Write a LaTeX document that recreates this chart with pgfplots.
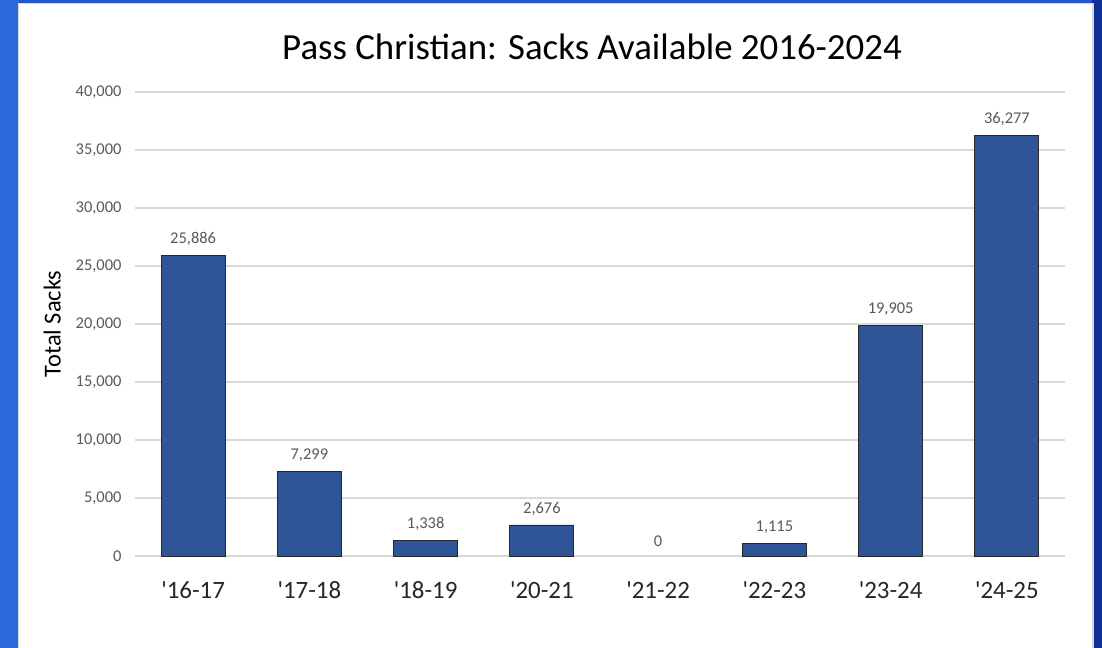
\documentclass[border=0pt]{standalone}
\usepackage{fontspec}
\setmainfont{Carlito}
\usepackage{pgfplots}
\pgfplotsset{compat=1.18}

\definecolor{barblue}{HTML}{2F5597}
\definecolor{gridgray}{HTML}{D9D9D9}
\definecolor{labgray}{HTML}{595959}
\definecolor{bgblue}{HTML}{2D68DC}
\definecolor{topblue}{HTML}{2356CC}
\definecolor{darkblue}{HTML}{0E3096}

\newcommand{\q}{\textquotesingle}

\begin{document}
\begin{tikzpicture}[x=1bp,y=1bp]
% slide background (image px -> bp, y up)
\useasboundingbox (0,0) rectangle (1102,648);
\fill[bgblue] (0,0) rectangle (1102,648);
\fill[topblue] (19,640) rectangle (1102,648);
\fill[darkblue] (1092,0) rectangle (1102,648);
\fill[gridgray] (18,0) rectangle (1094,645);
\fill[white] (19,0) rectangle (1092,644);

\node[font=\fontsize{37}{40}\selectfont, text=black] at (592,601) {Pass Christian: Sacks Available 2016-2024};

\begin{axis}[
  at={(135bp,92bp)}, anchor=south west,
  width=930bp, height=464bp,
  scale only axis,
  ybar, bar width=64bp,
  xmin=-0.5, xmax=7.5,
  ymin=0, ymax=40000,
  ytick={0,5000,...,40000},
  xtick={0,...,7},
  xticklabels={{\q16-17},{\q17-18},{\q18-19},{\q20-21},{\q21-22},{\q22-23},{\q23-24},{\q24-25}},
  axis line style={draw=none},
  major tick length=0pt,
  ymajorgrids,
  grid style={gridgray, line width=1.5bp},
  /pgf/number format/assume math mode=true,
  /pgf/number format/1000 sep={,},
  scaled y ticks=false,
  yticklabel style={font=\fontsize{16.5}{18}\selectfont, text=labgray, xshift=-10bp},
  xticklabel style={font=\fontsize{25}{28}\selectfont, text=black!85, yshift=-22bp},
  ylabel={Total Sacks},
  every axis y label/.style={at={(ticklabel cs:0.5,8bp)}, rotate=90, anchor=near ticklabel,
    font=\fontsize{24.5}{27}\selectfont, text=black},
  nodes near coords,
  every node near coord/.append style={font=\fontsize{16.5}{18}\selectfont, text=labgray, yshift=6bp,
    /pgf/number format/assume math mode=true, /pgf/number format/1000 sep={,}},
  clip=false,
]
\addplot[fill=barblue, draw=black!85, line width=0.9bp, bar shift=0pt] coordinates {
  (0,25886) (1,7299) (2,1338) (3,2676) (5,1115) (6,19905) (7,36277)
};
\addplot[draw=none, fill=none, bar shift=0pt] coordinates {(4,0)};
\end{axis}
\end{tikzpicture}
\end{document}
